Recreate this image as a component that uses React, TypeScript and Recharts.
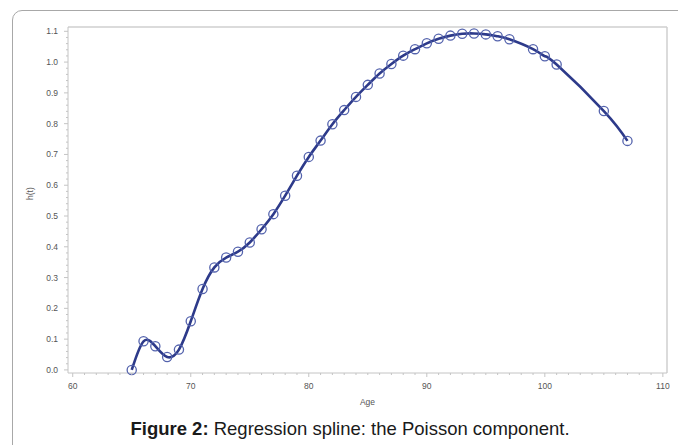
import { Line, LineChart, ReferenceLine, XAxis, YAxis } from "recharts";

const ages = [
  65, 66, 67, 68, 69, 70, 71, 72, 73, 74, 75, 76, 77, 78, 79, 80, 81, 82, 83, 84, 85, 86, 87,
  88, 89, 90, 91, 92, 93, 94, 95, 96, 97, 99, 100, 101, 105, 107,
];
const hazard = [
  0.0, 0.093, 0.077, 0.042, 0.066, 0.158, 0.263, 0.333, 0.365, 0.384, 0.414, 0.457, 0.506,
  0.566, 0.631, 0.692, 0.745, 0.798, 0.844, 0.887, 0.926, 0.963, 0.994, 1.021, 1.042, 1.061,
  1.076, 1.086, 1.092, 1.093, 1.09, 1.084, 1.074, 1.042, 1.019, 0.992, 0.841, 0.744,
];
const xMajor = [60, 70, 80, 90, 100, 110];
const yMajor = [0, 0.1, 0.2, 0.3, 0.4, 0.5, 0.6, 0.7, 0.8, 0.9, 1.0, 1.1];

const data = ages.map((age, i) => ({ age, h: hazard[i] }));

// minor tick positions for the axis look
const xTicks: number[] = [];
for (let v = 60; v <= 110; v += 1) xTicks.push(v);
const yTicks: number[] = [];
for (let k = 0; k <= 55; k++) yTicks.push(Math.round(k * 2) / 100);

const axisGray = "#c4c4c4";
const labelGray = "#555";
const font = "Liberation Sans, Arial";

function XTick(props: any) {
  const { x, y, payload } = props;
  const major = xMajor.includes(payload.value);
  return (
    <g>
      <line x1={x} x2={x} y1={y} y2={y + (major ? 4 : 2)} stroke={axisGray} />
      {major && (
        <text x={x} y={y + 16} textAnchor="middle" fontSize={8.5} fill={labelGray} fontFamily={font}>
          {payload.value}
        </text>
      )}
    </g>
  );
}

function YTick(props: any) {
  const { x, y, payload } = props;
  const major = yMajor.some((m) => Math.abs(m - payload.value) < 1e-6);
  return (
    <g>
      <line x1={x} x2={x - (major ? 4 : 2)} y1={y} y2={y} stroke={axisGray} />
      {major && (
        <text x={x - 10} y={y + 3} textAnchor="end" fontSize={8.5} fill={labelGray} fontFamily={font}>
          {payload.value.toFixed(1)}
        </text>
      )}
    </g>
  );
}

function OpenDot(props: any) {
  const { cx, cy } = props;
  return <circle cx={cx} cy={cy} r={4.6} fill="none" stroke="#5463ad" strokeWidth={1.3} />;
}

export default function App() {
  return (
    <div style={{ position: "absolute", left: 0, top: 0, width: 678, height: 445, overflow: "hidden", background: "#fff" }}>
      <div
        style={{
          position: "absolute",
          left: 12,
          top: 10,
          width: 720,
          height: 500,
          border: "1px solid #a8a8a8",
          borderTopLeftRadius: 10,
        }}
      />
      <div style={{ position: "absolute", left: 0, top: 0 }}>
        <LineChart width={678} height={420} data={data} margin={{ top: 27, right: 11, bottom: 17, left: 0 }}>
          <XAxis
            type="number"
            dataKey="age"
            domain={[59.6, 110.35]}
            ticks={xTicks}
            interval={0}
            height={30}
            tickSize={0}
            tickMargin={0}
            tickLine={false}
            stroke={axisGray}
            tick={<XTick />}
            label={{ value: "Age", position: "insideBottom", offset: -2, fontSize: 8.5, fill: labelGray, fontFamily: font }}
          />
          <YAxis
            type="number"
            domain={[-0.01, 1.114]}
            ticks={yTicks}
            interval={0}
            width={68}
            tickSize={0}
            tickMargin={0}
            tickLine={false}
            stroke={axisGray}
            tick={<YTick />}
            label={{ value: "h(t)", angle: -90, position: "insideLeft", offset: 30, fontSize: 8.5, fill: labelGray, fontFamily: font }}
          />
          <ReferenceLine y={1.114} stroke="#cfcfcf" strokeWidth={1.5} />
          <ReferenceLine x={110.35} stroke="#cfcfcf" strokeWidth={1.5} />
          <Line
            type="natural"
            dataKey="h"
            stroke="#2d3a8a"
            strokeWidth={2.6}
            dot={<OpenDot />}
            activeDot={false}
            isAnimationActive={false}
          />
        </LineChart>
      </div>
      <div
        style={{
          position: "absolute",
          left: 0,
          width: 700,
          top: 418,
          textAlign: "center",
          fontFamily: "Liberation Sans, Arial, sans-serif",
          fontSize: 18.5,
          color: "#1a1a1a",
        }}
      >
        <b>Figure 2:</b> Regression spline: the Poisson component.
      </div>
    </div>
  );
}
